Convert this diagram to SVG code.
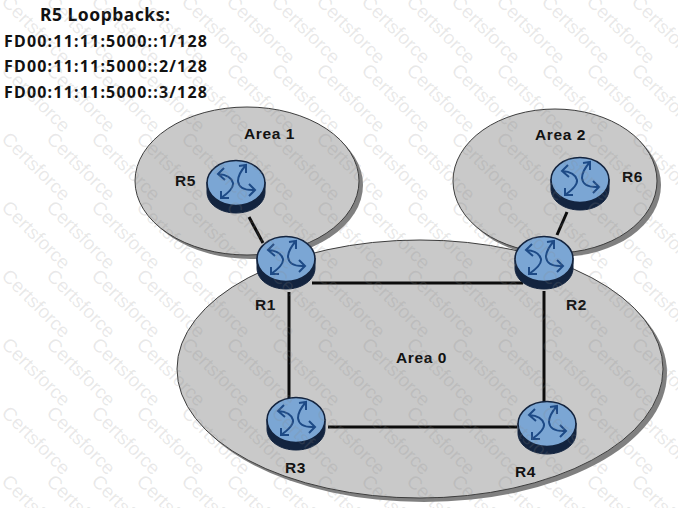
<svg xmlns="http://www.w3.org/2000/svg" width="678" height="508" viewBox="0 0 678 508">
<style>
.area{fill:#c9c9c9;stroke:#3d3d3d;stroke-width:1}
.shadow{fill:#808080}
.link{stroke:#0c0c0c;stroke-width:3;fill:none}
.lbl{font:bold 15.5px "Liberation Sans",Arial,sans-serif;fill:#111;letter-spacing:.6px}
.loop{font:bold 16px "Noto Sans","DejaVu Sans",sans-serif;fill:#111;letter-spacing:1.2px}
.head{font:bold 17.5px "Noto Sans","DejaVu Sans",sans-serif;fill:#111;letter-spacing:.5px}
.wm{font:19px "Liberation Sans",Arial,sans-serif;fill:#888;fill-opacity:.19}
.base{fill:#13243f;stroke:#13243f}
.top{fill:#7ba6d4;stroke:#13243f;stroke-width:1.6}
.arr{fill:none;stroke:#1d4a86;stroke-width:2}
</style>
<defs>
<g id="router">
<path class="base" d="M-29-5V5C-29 17-16 26 0 26S29 17 29 5V-5Z"/>
<ellipse class="top" cx="0" cy="-4" rx="29" ry="22.5"/>
<g transform="translate(0,-4)">
<path class="arr" d="M-18-9Q-5-8-3 0Q-2 6-15 15M10-18Q2-9 2-2Q3 8 19 7M-12-15L-18-9-11-3M3-17L10-18 10-10M13 1L19 7 13 13M-15 8L-15 15-7 15"/>
</g>
</g>
<text id="w" class="wm" transform="rotate(45)">Certsforce</text>
<g id="wr">
<use href="#w"/><use href="#w" transform="translate(45,0)"/><use href="#w" transform="translate(90,0)"/><use href="#w" transform="translate(135,0)"/><use href="#w" transform="translate(180,0)"/><use href="#w" transform="translate(225,0)"/><use href="#w" transform="translate(270,0)"/><use href="#w" transform="translate(315,0)"/><use href="#w" transform="translate(360,0)"/><use href="#w" transform="translate(405,0)"/><use href="#w" transform="translate(450,0)"/><use href="#w" transform="translate(495,0)"/><use href="#w" transform="translate(540,0)"/><use href="#w" transform="translate(585,0)"/><use href="#w" transform="translate(630,0)"/>
</g>
</defs>
<rect width="678" height="508" fill="#fff"/>
<g id="areas">
<g id="area1"><ellipse class="shadow" cx="251" cy="185" rx="112" ry="74"/><ellipse class="area" cx="247" cy="181" rx="112" ry="74"/></g>
<g id="area2"><ellipse class="shadow" cx="559" cy="185" rx="102" ry="72"/><ellipse class="area" cx="555" cy="181" rx="102" ry="72"/></g>
<g id="area0"><ellipse class="shadow" cx="424" cy="373" rx="243" ry="129"/><ellipse class="area" cx="420" cy="369" rx="243" ry="129"/></g>
</g>
<g id="connectors">
<line class="link" x1="249" y1="217" x2="263" y2="243"/>
<line class="link" x1="567" y1="212" x2="557" y2="235"/>
<line class="link" x1="312" y1="283" x2="523" y2="283"/>
<line class="link" x1="289" y1="292" x2="289" y2="398"/>
<line class="link" x1="544" y1="291" x2="544" y2="402"/>
<line class="link" x1="328" y1="427" x2="517" y2="427"/>
</g>
<g id="R5"><use href="#router" x="236" y="187"/><text class="lbl" x="175" y="186">R5</text></g>
<g id="R6"><use href="#router" x="580" y="184"/><text class="lbl" x="622" y="182">R6</text></g>
<g id="R1"><use href="#router" x="286" y="263"/><text class="lbl" x="255" y="310">R1</text></g>
<g id="R2"><use href="#router" x="544" y="263"/><text class="lbl" x="566" y="310">R2</text></g>
<g id="R3"><use href="#router" x="296" y="424"/><text class="lbl" x="285" y="473">R3</text></g>
<g id="R4"><use href="#router" x="547" y="428"/><text class="lbl" x="515" y="477">R4</text></g>
<g id="labels">
<text class="lbl" x="244" y="139">Area 1</text>
<text class="lbl" x="535" y="140">Area 2</text>
<text class="lbl" x="396" y="363">Area 0</text>
<text class="head" x="40" y="21">R5 Loopbacks:</text>
<text class="loop" x="4" y="47">FD00:11:11:5000::1/128</text>
<text class="loop" x="4" y="72">FD00:11:11:5000::2/128</text>
<text class="loop" x="4" y="98">FD00:11:11:5000::3/128</text>
</g>
<g id="watermark">
<use href="#wr" transform="translate(0.6,3)"/><use href="#wr" transform="translate(0.6,71.5)"/><use href="#wr" transform="translate(0.6,140)"/><use href="#wr" transform="translate(0.6,208.5)"/><use href="#wr" transform="translate(0.6,277)"/><use href="#wr" transform="translate(0.6,345.5)"/><use href="#wr" transform="translate(0.6,414)"/><use href="#wr" transform="translate(0.6,482.5)"/>
</g>
</svg>
